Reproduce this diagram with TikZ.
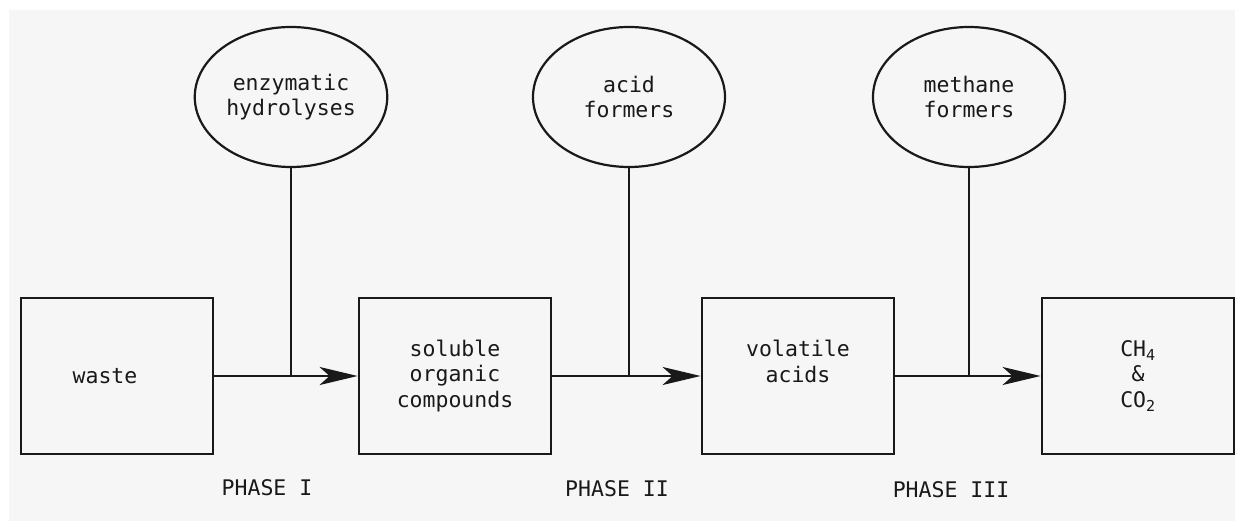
\documentclass[tikz,border=0pt]{standalone}
\usepackage{fontspec}
\setmonofont{DejaVu Sans Mono}
\usepackage{xcolor}
\usepackage{tikz}
\usetikzlibrary{arrows.meta,shapes.geometric}
\definecolor{paper}{RGB}{246,246,246}
\definecolor{ink}{RGB}{25,25,25}

\begin{document}
\begin{tikzpicture}[x=1pt, y=-1pt,
        stage/.style={draw=ink, line width=2.8pt, minimum width=192pt, minimum height=156pt, align=center},
        agent/.style={draw=ink, ellipse, line width=2.2pt, minimum width=192pt, minimum height=140pt, align=center},
        flow/.style={draw=ink, line width=2.8pt, -{Stealth[length=38pt, width=18pt, inset=10pt]}},
        feed/.style={draw=ink, line width=2pt},
        every node/.style={text=ink, font=\ttfamily\fontsize{21.5}{25.5}\selectfont}]
        \useasboundingbox (0,0) rectangle (1235,521);
        \fill[paper] (9,10) rectangle (1235,521);

        % Stages
        \node[stage] (waste) at (117,376) {waste\hspace{24pt}};
        \node[stage] (soluble) at (455,376) {soluble\\organic\\compounds};
        \node[stage] (volatile) at (798,376) {volatile\\acids\\[4pt]};
        \node[stage] (gas) at (1138,376) {CH\textsubscript{4}\\\&\\CO\textsubscript{2}};

        % Organisms
        \node[agent] (hydro) at (291,97) {enzymatic\\hydrolyses};
        \node[agent] (acidf) at (629,97) {acid\\formers};
        \node[agent] (methf) at (969,97) {methane\\formers};

        % Flow
        \draw[flow] (waste.east) -- (soluble.west);
        \draw[flow] (soluble.east) -- (volatile.west);
        \draw[flow] (volatile.east) -- (gas.west);

        \draw[feed] (hydro.south) -- (hydro.south |- soluble.west);
        \draw[feed] (acidf.south) -- (acidf.south |- volatile.west);
        \draw[feed] (methf.south) -- (methf.south |- gas.west);

        % Phases
        \node (p1) at (267,488) {PHASE I};
        \node (p2) at (617,489) {PHASE II};
        \node (p3) at (951,490) {PHASE III};
    \end{tikzpicture}
\end{document}
